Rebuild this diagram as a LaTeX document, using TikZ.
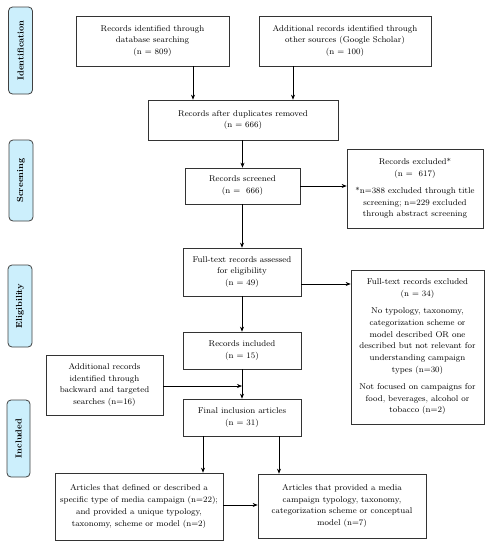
\documentclass[tikz,border=0pt]{standalone}
\usetikzlibrary{arrows.meta,calc}
\begin{document}
\begin{tikzpicture}[x=1pt,y=-1pt,
  box/.style={draw=black!80,line width=0.7pt,align=center,inner sep=1pt,font=\fontsize{8.4}{11.8}\selectfont},
  side/.style={draw=black!75,line width=0.8pt,fill=cyan!20!white,rounded corners=4pt},
  sidetext/.style={rotate=90,font=\fontsize{8.8}{10}\selectfont\bfseries},
  arr/.style={line width=0.6pt,-{Stealth[length=5pt,width=4pt]}}]
\useasboundingbox (0,0) rectangle (495,550);
% side labels
\node[side,minimum width=24pt,minimum height=87pt] (sid) at (20.5,50.5) {};
\node[sidetext] (tid) at (sid.center) {Identification};
\node[side,minimum width=24pt,minimum height=81pt] (ssc) at (21,180.5) {};
\node[sidetext] (tsc) at (ssc.center) {Screening};
\node[side,minimum width=24pt,minimum height=82pt] (sel) at (20,306) {};
\node[sidetext] (tel) at (sel.center) {Eligibility};
\node[side,minimum width=23pt,minimum height=77pt] (sin) at (18.5,438.5) {};
\node[sidetext] (tin) at (sin.center) {Included};
% boxes
\node[box,minimum width=153pt,minimum height=50pt] (b1) at (152.5,41) {Records identified through\\database searching\\(n = 809)};
\node[box,minimum width=172pt,minimum height=50pt] (b2) at (345,41) {Additional records identified through\\other sources (Google Scholar)\\(n = 100)};
\node[box,minimum width=190pt,minimum height=40pt] (b3) at (243,120) {Records after duplicates removed\\(n = 666)};
\node[box,minimum width=115pt,minimum height=36pt] (b4) at (242.5,186) {Records screened\\(n =\ \ 666)};
\node[box,minimum width=136pt,minimum height=79pt] (b5) at (415,188.5) {Records excluded*\\(n =\ \ 617)\\[5pt]*n=388 excluded through title\\screening; n=229 excluded\\through abstract screening};
\node[box,minimum width=118pt,minimum height=48pt] (b6) at (242,272) {Full-text records assessed\\for eligibility\\(n = 49)};
\node[box,minimum width=133pt,minimum height=154pt] (b7) at (417.5,347) {Full-text records excluded\\(n = 34)\\[5pt]No typology, taxonomy,\\categorization scheme or\\model described OR one\\described but not relevant for\\understanding campaign\\types (n=30)\\[5pt]Not focused on campaigns for\\food, beverages, alcohol or\\tobacco (n=2)};
\node[box,minimum width=118pt,minimum height=37pt] (b8) at (242,350.5) {Records included\\(n = 15)};
\node[box,minimum width=117pt,minimum height=60pt] (b9) at (104.5,385) {Additional records\\identified through\\backward and targeted\\searches (n=16)};
\node[box,minimum width=118pt,minimum height=37pt] (b10) at (242,417.5) {Final inclusion articles\\(n = 31)};
\node[box,minimum width=168pt,minimum height=67pt] (b11) at (139,506.5) {Articles that defined or described a\\specific type of media campaign (n=22);\\and provided a unique typology,\\taxonomy, scheme or model (n=2)};
\node[box,minimum width=168pt,minimum height=64pt] (b12) at (342,506) {Articles that provided a media\\campaign typology, taxonomy,\\categorization scheme or conceptual\\model (n=7)};
% connectors
\draw[arr] ([xshift=40.5pt]b1.south) -- ([xshift=40.5pt]b1.south |- b3.north);
\draw[arr] ([xshift=-52pt]b2.south) -- ([xshift=-52pt]b2.south |- b3.north);
\draw[arr] (b4.north |- b3.south) -- (b4.north);
\draw[arr] (b4.east) -- (b4.east -| b5.west);
\draw[arr] ([xshift=-0.5pt]b4.south) -- (b6.north);
\draw[arr] ([yshift=-12pt]b6.east) -- ([yshift=-12pt]b6.east -| b7.west);
\draw[arr] (b6.south) -- (b8.north);
\draw[arr] (b8.south) -- (b10.north);
\draw[arr] ([yshift=-1pt]b9.east) -- ([yshift=-1pt]b9.east -| b8.south);
\draw[arr] ([xshift=-39pt]b10.south) -- ([xshift=-39pt]b10.south |- b11.north);
\draw[arr] ([xshift=37pt]b10.south) -- ([xshift=37pt]b10.south |- b12.north);
\draw[arr] ([yshift=1.5pt]b11.east) -- ([yshift=1.5pt]b11.east -| b12.west);
\end{tikzpicture}
\end{document}
